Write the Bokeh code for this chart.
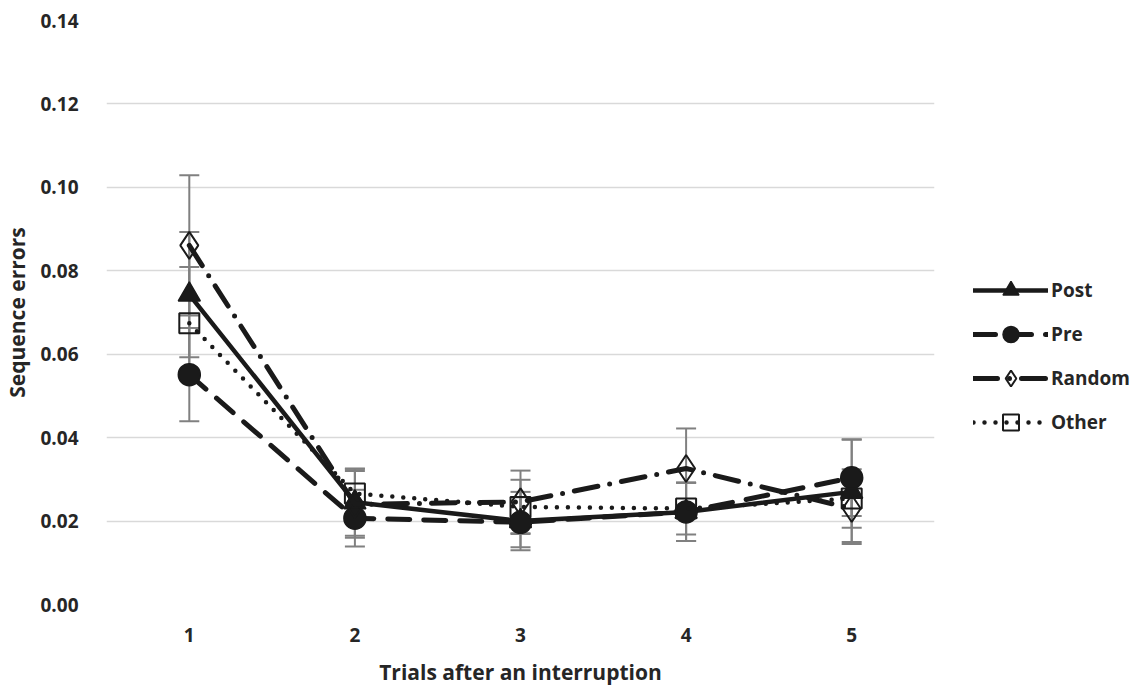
from bokeh.plotting import figure
from bokeh.models import ColumnDataSource, Whisker, TeeHead, Legend, LegendItem, FixedTicker, NumeralTickFormatter
from bokeh.embed import file_html
from bokeh.resources import INLINE

trials = [1, 2, 3, 4, 5]
tick_labels = ["1", "2", "3", "4", "5"]

post = [0.0743, 0.0245, 0.0200, 0.0222, 0.0270]
pre = [0.0551, 0.0207, 0.0197, 0.0222, 0.0304]
random_ = [0.0861, 0.0240, 0.0246, 0.0326, 0.0230]
other = [0.0674, 0.0266, 0.0234, 0.0230, 0.0254]

post_err = [0.0150, 0.0080, 0.0070, 0.0070, 0.0125]
pre_err = [0.0112, 0.0068, 0.0060, 0.0070, 0.0092]
random_err = [0.0168, 0.0080, 0.0075, 0.0096, 0.0080]
other_err = [0.0135, 0.0060, 0.0065, 0.0062, 0.0070]

series_names = ["Post", "Pre", "Random", "Other"]

FONT = "Open Sans"
TXT = "#262626"

p = figure(frame_width=828, frame_height=584, x_range=(0.5, 5.5), y_range=(0, 0.14),
           output_backend="svg", toolbar_location=None,
           min_border_left=101, min_border_top=20, min_border_right=191, min_border_bottom=78)
p.outline_line_color = None
p.background_fill_color = "white"

# axes
p.yaxis.ticker = FixedTicker(ticks=[0, 0.02, 0.04, 0.06, 0.08, 0.10, 0.12, 0.14])
p.yaxis.formatter = NumeralTickFormatter(format="0.00")
p.xaxis.ticker = FixedTicker(ticks=trials)
p.xaxis.major_label_overrides = {t: l for t, l in zip(trials, tick_labels)}
for ax in (p.xaxis[0], p.yaxis[0]):
    ax.axis_line_color = None
    ax.major_tick_line_color = None
    ax.minor_tick_line_color = None
    ax.major_label_text_font = FONT
    ax.major_label_text_font_style = "bold"
    ax.major_label_text_font_size = "19px"
    ax.major_label_text_color = TXT
    ax.axis_label_text_font = FONT
    ax.axis_label_text_font_style = "bold"
    ax.axis_label_text_color = TXT
p.yaxis.major_label_standoff = 22
p.xaxis.major_label_standoff = 17
p.yaxis.axis_label = "Sequence errors"
p.xaxis.axis_label = "Trials after an interruption"
p.yaxis.axis_label_text_font_size = "21px"
p.xaxis.axis_label_text_font_size = "21px"
p.yaxis.axis_label_standoff = 6
p.xaxis.axis_label_standoff = 13

p.xgrid.grid_line_color = None
p.ygrid.grid_line_color = "#d9d9d9"
p.ygrid.grid_line_width = 1.5

# error bars
for vals, errs in [(post, post_err), (pre, pre_err), (random_, random_err), (other, other_err)]:
    src = ColumnDataSource(dict(x=trials,
                                upper=[v + e for v, e in zip(vals, errs)],
                                lower=[v - e for v, e in zip(vals, errs)]))
    w = Whisker(base="x", upper="upper", lower="lower", source=src,
                line_color="#808080", line_width=2,
                upper_head=TeeHead(size=20, line_color="#808080", line_width=2),
                lower_head=TeeHead(size=20, line_color="#808080", line_width=2))
    p.add_layout(w)

styles = [
    dict(vals=post, dash="solid", width=4.5, marker="triangle", size=22, fill="#1a1a1a"),
    dict(vals=pre, dash="22 14", width=5, marker="circle", size=22, fill="#1a1a1a"),
    dict(vals=random_, dash="24 12 0 12", width=5, marker="diamond", size=27, fill=None),
    dict(vals=other, dash="0 11", width=4.5, marker="square", size=20, fill=None),
]

items = []
for name, st in zip(series_names, styles):
    src = ColumnDataSource(dict(x=trials, y=st["vals"]))
    ln = p.line("x", "y", source=src, line_color="#1a1a1a", line_width=st["width"],
                line_dash=st["dash"], line_cap="round", line_join="round")
    if st["fill"]:
        sc = p.scatter("x", "y", source=src, marker=st["marker"], size=st["size"],
                       fill_color=st["fill"], line_color="#1a1a1a", line_width=1.5)
    else:
        sc = p.scatter("x", "y", source=src, marker=st["marker"], size=st["size"],
                       fill_alpha=0, line_color="#1a1a1a", line_width=2)
    items.append(LegendItem(label=name, renderers=[ln, sc]))

legend = Legend(items=items, location=(39, 162), orientation="vertical",
                glyph_width=75, glyph_height=40, label_height=40, spacing=4,
                label_standoff=3, padding=0, margin=0,
                label_text_font=FONT, label_text_font_style="bold",
                label_text_font_size="19px", label_text_color=TXT,
                border_line_color=None, background_fill_alpha=0)
p.add_layout(legend, "right")

open("out.html", "w").write(file_html(p, INLINE))
